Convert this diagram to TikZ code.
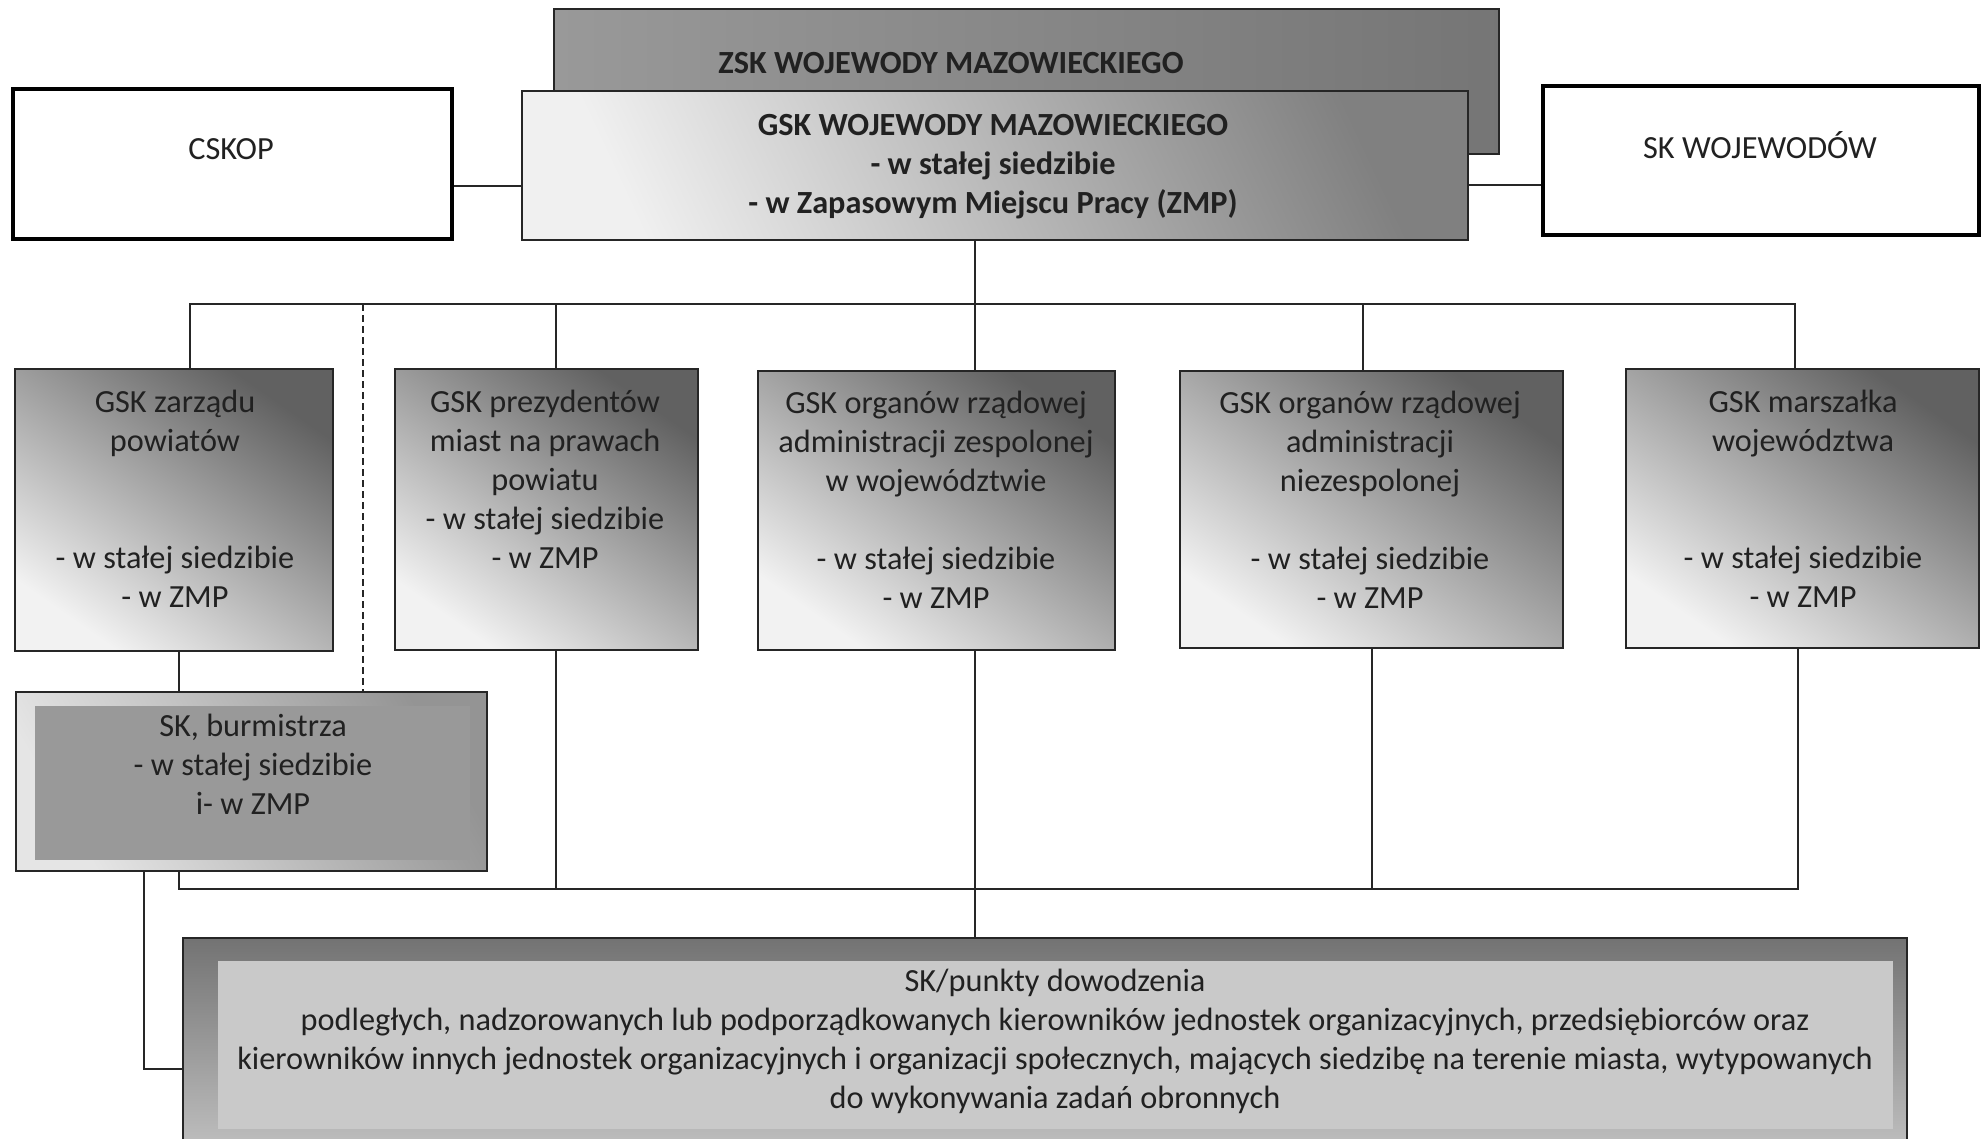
\documentclass[tikz,border=0pt]{standalone}
\usepackage{fontspec}
\setmainfont{Carlito}
\usetikzlibrary{calc}
\begin{document}
\begin{tikzpicture}[x=1pt,y=-1pt,
  txt/.style={align=center, inner sep=0pt, font=\fontsize{32.3}{39}\selectfont, text=black!87},
  gbox/.style={draw=black!85, line width=2.5pt, inner sep=0pt, top color=black!62, bottom color=black!5, shading angle=-35},
  wbox/.style={draw=black, line width=3.5pt, fill=white, inner sep=0pt},
  conn/.style={draw=black!85, line width=1.5pt},
]
\clip (0,0) rectangle (1983,1138);
\useasboundingbox (0,0) rectangle (1983,1138);
\fill[white] (0,0) rectangle (1983,1138);

% top row
\node[draw=black!85, line width=2.5pt, inner sep=0pt, left color=black!40, right color=black!54,
      minimum width=945pt, minimum height=145pt] (zsk) at (1026.5,81.5) {};
\node[txt, font=\fontsize{32.3}{39}\selectfont\bfseries] (zskt) at (951,63) {ZSK WOJEWODY MAZOWIECKIEGO};
\node[draw=black!85, line width=2.5pt, inner sep=0pt, top color=black!50, bottom color=black!6, shading angle=-65,
      minimum width=946pt, minimum height=149pt] (gsk) at (995,165.5) {};
\node[txt, font=\fontsize{32.3}{39}\selectfont\bfseries] (gskt) at (993,167)
  {GSK WOJEWODY MAZOWIECKIEGO\\- w stałej siedzibie\\- w Zapasowym Miejscu Pracy (ZMP)};
\node[wbox, minimum width=439pt, minimum height=150pt] (cskop) at (232.5,164) {};
\node[txt] (cskopt) at (231,149) {CSKOP};
\node[wbox, minimum width=436pt, minimum height=149pt] (skw) at (1761,160.5) {};
\node[txt] (skwt) at (1760,145) {SK WOJEWODÓW};

% second row boxes
\node[gbox, minimum width=318pt, minimum height=282pt] (b1) at (174,510) {};
\node[gbox, minimum width=303pt, minimum height=281pt] (b2) at (546.5,509.5) {};
\node[gbox, minimum width=357pt, minimum height=279pt] (b3) at (936.5,510.5) {};
\node[gbox, minimum width=383pt, minimum height=277pt] (b4) at (1371.5,509.5) {};
\node[gbox, minimum width=353pt, minimum height=279pt] (b5) at (1802.5,508.5) {};
\node[txt] (b1t) at (175,498.5) {GSK zarządu\\powiatów\\[78pt]- w stałej siedzibie\\- w ZMP};
\node[txt] (b2t) at (545,479) {GSK prezydentów\\miast na prawach\\powiatu\\- w stałej siedzibie\\- w ZMP};
\node[txt] (b3t) at (936,500) {GSK organów rządowej\\administracji zespolonej\\w województwie\\[39pt]- w stałej siedzibie\\- w ZMP};
\node[txt] (b4t) at (1370,500) {GSK organów rządowej\\administracji\\niezespolonej\\[39pt]- w stałej siedzibie\\- w ZMP};
\node[txt] (b5t) at (1803,498.5) {GSK marszałka\\województwa\\[78pt]- w stałej siedzibie\\- w ZMP};

% burmistrz
\node[draw=black!85, line width=2.5pt, inner sep=0pt, top color=black!42, bottom color=black!10, shading angle=-60,
      minimum width=471pt, minimum height=179pt] (b6) at (251.5,781.5) {};
\node[fill=black!40, inner sep=0pt, minimum width=435pt, minimum height=154pt] (b6in) at (252.5,783) {};
\node[txt] (b6t) at (253,764) {SK, burmistrza\\- w stałej siedzibie\\i- w ZMP};

% bottom box
\node[draw=black!85, line width=2.5pt, inner sep=0pt, top color=black!55, bottom color=black!25,
      minimum width=1724pt, minimum height=212pt] (b7) at (1045,1044) {};
\node[fill=black!21, inner sep=0pt, minimum width=1675pt, minimum height=168pt] (b7in) at (1055.5,1045) {};
\node[txt] (b7t) at (1055,1041.5)
  {SK/punkty dowodzenia\\podległych, nadzorowanych lub podporządkowanych kierowników jednostek organizacyjnych, przedsiębiorców oraz\\kierowników innych jednostek organizacyjnych i organizacji społecznych, mających siedzibę na terenie miasta, wytypowanych\\do wykonywania zadań obronnych};

% connectors
\coordinate (c1) at (0,186);
\coordinate (c2) at (0,185);
\draw[conn] (cskop.east |- c1) -- (gsk.west |- c1);
\draw[conn] (skw.west |- c2) -- (gsk.east |- c2);

\coordinate (t1) at (190,304);
\coordinate (t2) at (556,304);
\coordinate (t3) at (975,304);
\coordinate (t4) at (1363,304);
\coordinate (t5) at (1795,304);
\draw[conn] (gsk.south -| t3) -- (t3);
\draw[conn] (b1.north -| t1) -- (t1) -- (t5) -- (b5.north -| t5);
\draw[conn] (t2) -- (b2.north -| t2);
\draw[conn] (t3) -- (b3.north -| t3);
\draw[conn] (t4) -- (b4.north -| t4);

\coordinate (d) at (363,304);
\draw[draw=black!85, line width=1.3pt, dash pattern=on 7pt off 4pt] (d) -- (b6.north -| d);

\coordinate (u1) at (179,889);
\coordinate (u2) at (556,889);
\coordinate (u3) at (975,889);
\coordinate (u4) at (1372,889);
\coordinate (u5) at (1798,889);
\draw[conn] (b1.south -| u1) -- (b6.north -| u1);
\draw[conn] (b6.south -| u1) -- (u1) -- (u5) -- (b5.south -| u5);
\draw[conn] (b2.south -| u2) -- (u2);
\draw[conn] (b4.south -| u4) -- (u4);
\draw[conn] (b3.south -| u3) -- (b7.north -| u3);

\coordinate (k) at (144,1069);
\draw[conn] (b6.south -| k) -- (k) -- (b7.west |- k);
\end{tikzpicture}
\end{document}
